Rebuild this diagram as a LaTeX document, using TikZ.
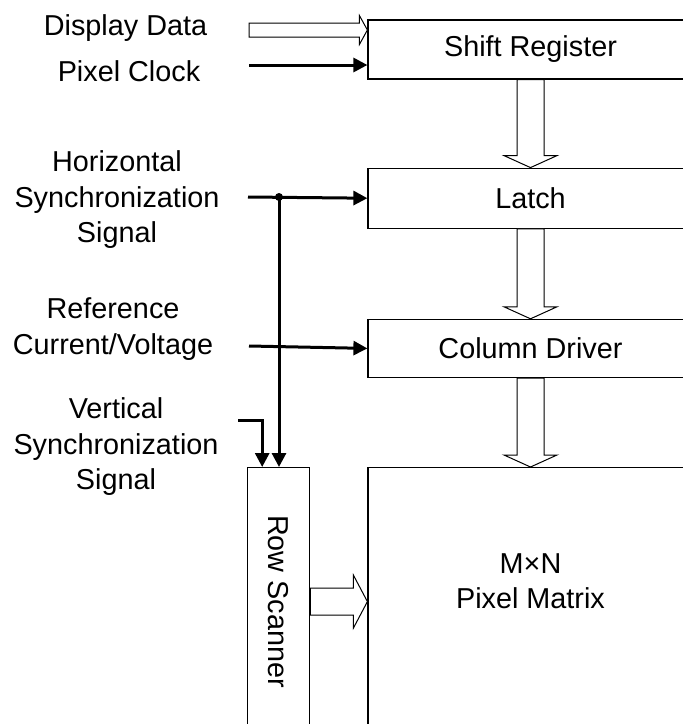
\documentclass[tikz,border=0pt]{standalone}
\usepackage{fontspec}
\setmainfont{Liberation Sans}
\usetikzlibrary{arrows.meta,positioning,calc}

% hollow bus arrows (from, to)
\newcommand{\busdown}[2]{%
  \draw[bus] ($(#1)+(-13.5,0)$) -- ($(#2)+(-13.5,-12)$) -- ($(#2)+(-26.5,-12)$) -- (#2)
    -- ($(#2)+(26.5,-12)$) -- ($(#2)+(13.5,-12)$) -- ($(#1)+(13.5,0)$) -- cycle;}
% (from, to, half shaft, half head, head length)
\newcommand{\busright}[5]{%
  \draw[bus] ($(#1)+(0,-#3)$) -- ($(#2)+(-#5,-#3)$) -- ($(#2)+(-#5,-#4)$) -- (#2)
    -- ($(#2)+(-#5,#4)$) -- ($(#2)+(-#5,#3)$) -- ($(#1)+(0,#3)$) -- cycle;}

\begin{document}
\begin{tikzpicture}[
    x=0.5pt, y=-0.5pt,
    node font=\fontsize{14.4}{17.75}\selectfont,
    >={Triangle[length=7pt,width=7pt]},
    blockbox/.style={draw=black, line width=0.6pt, fill=white, inner sep=0pt,
        minimum width=162.5pt},
    lbl/.style={align=center, inner sep=0pt},
    sig/.style={->, line width=1.5pt},
    bus/.style={draw=black, fill=white, line width=0.5pt, line join=miter},
]
\useasboundingbox (0,0) rectangle (683,724);

% Blocks
\node[blockbox, minimum height=29.5pt] (sreg) at (530.5,49.5) {Shift Register};
\node[blockbox, minimum height=30pt, below=44pt of sreg] (latch) {Latch};
\node[blockbox, minimum height=29pt, below=45pt of latch] (coldrv) {Column Driver};
\node[blockbox, minimum height=150pt, below=44.5pt of coldrv] (matrix) {};
\node[lbl] (mxn) at (530.5,581) {M×N\\Pixel Matrix};
\node[blockbox, minimum width=31pt, minimum height=134pt,
    below left=0pt and 28.5pt of matrix.north west] (rowscan) {};
\node[lbl, rotate=-90] at (rowscan) {Row Scanner};

% Input labels
\node[lbl] (ddata) at (125.5,28) {Display Data};
\node[lbl] (pclk) at (129,71) {Pixel Clock};
\node[lbl] (hsync) at (117,200) {Horizontal\\Synchronization\\Signal};
\node[lbl] (refv) at (113,329) {Reference\\Current/Voltage};
\node[lbl] (vsync) at (116,447) {Vertical\\Synchronization\\Signal};

% Input points
\coordinate (ddin) at (249,30);
\coordinate (ddtip) at (ddin -| sreg.west);
\coordinate (pclkin) at (249,65);
\coordinate (hsin) at (248,197);
\coordinate (hsjoin) at (279,197);
\coordinate (refin) at (249,346);
\coordinate (vsin) at (238,420);
\coordinate (rstip) at (rowscan.east -| matrix.west);

% Signals
\busright{ddin}{ddtip}{7}{14.5}{8}
\draw[sig] (pclkin) -- (pclkin -| sreg.west);
\draw[sig] (hsin) -- (latch.west);
\fill (hsjoin) circle (2pt);
\draw[sig] (hsjoin) -- (hsjoin |- rowscan.north);
\draw[sig] (refin) -- (coldrv.west);
\draw[sig] (vsin) -| ($(rowscan.north west)+(15,0)$);

% Data buses
\busdown{sreg.south}{latch.north}
\busdown{latch.south}{coldrv.north}
\busdown{coldrv.south}{matrix.north}
\busright{rowscan.east}{rstip}{13.5}{26.5}{14}

\end{tikzpicture}
\end{document}
